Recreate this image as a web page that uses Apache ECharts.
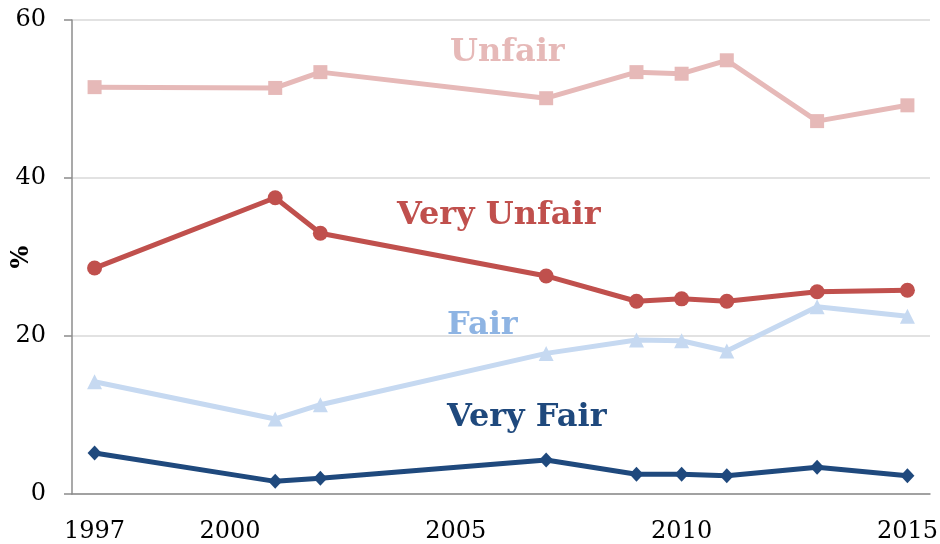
<!DOCTYPE html>
<html>
<head>
<meta charset="utf-8">
<script src="https://cdn.jsdelivr.net/npm/echarts@6/dist/echarts.min.js"></script>
<style>
  html, body { margin: 0; padding: 0; background: #fff; }
  #chart { width: 940px; height: 544px; }
</style>
</head>
<body>
<div id="chart"></div>
<script>
// years surveyed and the share (%) in each answer group
var years = [1997, 2001, 2002, 2007, 2009, 2010, 2011, 2013, 2015];
var unfair = [51.5, 51.4, 53.4, 50.1, 53.4, 53.2, 54.9, 47.2, 49.2];
var veryUnfair = [28.6, 37.5, 33.0, 27.6, 24.4, 24.7, 24.4, 25.6, 25.8];
var fair = [14.2, 9.5, 11.3, 17.8, 19.5, 19.4, 18.1, 23.7, 22.5];
var veryFair = [5.2, 1.6, 2.0, 4.3, 2.5, 2.5, 2.3, 3.4, 2.3];
var xTickYears = [1997, 2000, 2005, 2010, 2015];

var font = 'DejaVu Serif';

function pairs(vals) {
	return years.map(function (y, i) { return [y, vals[i]]; });
}

function makeSeries(name, vals, color, symbol, size) {
	return {
		name: name,
		type: 'line',
		data: pairs(vals),
		symbol: symbol,
		symbolSize: size,
		itemStyle: { color: color },
		lineStyle: { color: color, width: 5 },
		z: 3
	};
}

//标签文字
function tag(text, left, top, color) {
	return {
		type: 'text', left: left, top: top,
		style: { text: text, fill: color, font: 'bold 32px "' + font + '"' }
	};
}

var myChart = echarts.init(document.getElementById('chart'));
myChart.setOption({
	animation: false,
	grid: { left: 72, right: 10, top: 20, bottom: 50, outerBoundsMode: 'none' },
	xAxis: {
		type: 'value',
		min: 1996.5,
		max: 2015.5,
		interval: 0.5,
		axisLine: { show: true, lineStyle: { color: '#8c8c8c', width: 1.5 } },
		axisTick: { show: false },
		splitLine: { show: false },
		axisLabel: {
			fontFamily: font, fontSize: 24, color: '#000', margin: 26,
			showMinLabel: true, showMaxLabel: true,
			formatter: function (v) {
				return xTickYears.indexOf(Math.round(v * 10) / 10) >= 0 ? String(v) : '';
			}
		}
	},
	yAxis: {
		type: 'value',
		min: 0, max: 60, interval: 20,
		name: '%',
		nameLocation: 'middle',
		nameGap: 38,
		nameRotate: 90,
		nameMoveOverlap: false,
		nameTextStyle: { fontFamily: font, fontSize: 24, fontWeight: 'bold', color: '#000' },
		axisLine: { show: true, lineStyle: { color: '#8c8c8c', width: 1.5 } },
		axisTick: { show: true, length: 8, lineStyle: { color: '#8c8c8c', width: 1.5 } },
		splitLine: { lineStyle: { color: '#d9d9d9', width: 1.5 } },
		axisLabel: { fontFamily: font, fontSize: 24, color: '#000', margin: 26 }
	},
	series: [
		makeSeries('Unfair', unfair, '#e6b9b8', 'rect', 14),
		makeSeries('Very Unfair', veryUnfair, '#c0504d', 'circle', 15),
		makeSeries('Fair', fair, '#c6d9f1', 'triangle', 15),
		makeSeries('Very Fair', veryFair, '#1f497d', 'diamond', [14, 15])
	],
	graphic: [
		tag('Unfair', 450, 37, '#e6b9b8'),
		tag('Very Unfair', 397, 200, '#c0504d'),
		tag('Fair', 447, 310, '#8eb4e3'),
		tag('Very Fair', 447, 402, '#1f497d')
	]
});
</script>
</body>
</html>
